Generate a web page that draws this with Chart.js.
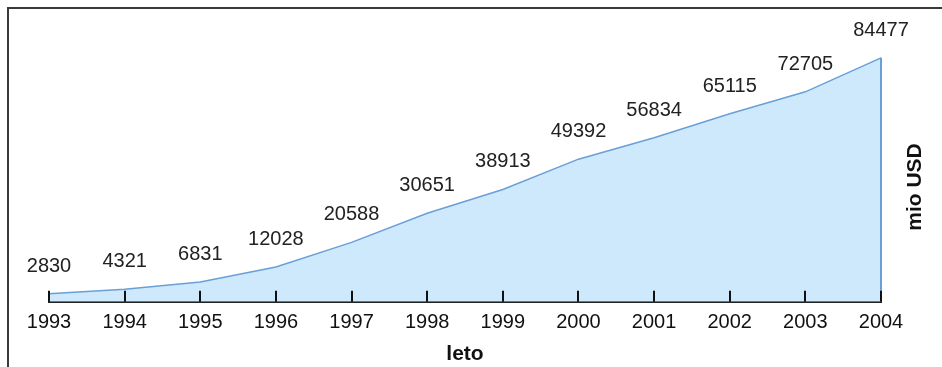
<!DOCTYPE html>
<html>
<head>
<meta charset="utf-8">
<script src="https://cdn.jsdelivr.net/npm/chart.js@4.4.1/dist/chart.umd.min.js"></script>
<style>
html,body{margin:0;padding:0;background:#fff;overflow:hidden;}
canvas{display:block;}
</style>
</head>
<body>
<canvas id="c" width="942" height="367"></canvas>
<script>
const years = ['1993','1994','1995','1996','1997','1998','1999','2000','2001','2002','2003','2004'];
const values = [2830, 4321, 6831, 12028, 20588, 30651, 38913, 49392, 56834, 65115, 72705, 84477];
const xTitle = 'leto';
const yTitle = 'mio USD';

const FONT = '"Liberation Sans", Arial, sans-serif';

const framePlugin = {
  id: 'frame',
  beforeDraw(chart) {
    const ctx = chart.ctx;
    ctx.save();
    ctx.fillStyle = '#fff';
    ctx.fillRect(0, 0, chart.width, chart.height);
    ctx.strokeStyle = '#3a3a3a';
    ctx.lineWidth = 2;
    ctx.beginPath();
    ctx.moveTo(8, chart.height + 2);
    ctx.lineTo(8, 8);
    ctx.lineTo(chart.width + 2, 8);
    ctx.stroke();
    ctx.restore();
  }
};

const decoPlugin = {
  id: 'deco',
  afterDatasetsDraw(chart) {
    const ctx = chart.ctx;
    const xs = chart.scales.x, ys = chart.scales.y;
    const bottom = chart.chartArea.bottom;
    ctx.save();
    // closing edge at last point
    const last = values.length - 1;
    ctx.strokeStyle = '#6a9fd8';
    ctx.lineWidth = 2;
    ctx.beginPath();
    ctx.moveTo(xs.getPixelForValue(last), ys.getPixelForValue(values[last]));
    ctx.lineTo(xs.getPixelForValue(last), bottom);
    ctx.stroke();
    // inward tick marks
    ctx.strokeStyle = '#111';
    ctx.lineWidth = 2;
    years.forEach((y, i) => {
      const px = Math.round(xs.getPixelForValue(i));
      ctx.beginPath();
      ctx.moveTo(px, bottom);
      ctx.lineTo(px, bottom - 11);
      ctx.stroke();
    });
    // value labels
    ctx.fillStyle = '#222';
    ctx.font = '20px ' + FONT;
    ctx.textAlign = 'center';
    ctx.textBaseline = 'alphabetic';
    values.forEach((v, i) => {
      ctx.fillText(String(v), xs.getPixelForValue(i), ys.getPixelForValue(v) - 22);
    });
    // right axis title
    ctx.font = 'bold 21px ' + FONT;
    ctx.fillStyle = '#111';
    ctx.translate(915, 187);
    ctx.rotate(-Math.PI / 2);
    ctx.textBaseline = 'middle';
    ctx.fillText(yTitle, 0, 0);
    ctx.restore();
  }
};

new Chart(document.getElementById('c'), {
  type: 'line',
  data: {
    labels: years,
    datasets: [{
      data: values,
      borderColor: '#6a9fd8',
      borderWidth: 1.5,
      backgroundColor: '#cde9fb',
      fill: 'origin',
      pointRadius: 0,
      tension: 0
    }]
  },
  options: {
    responsive: false,
    animation: false,
    devicePixelRatio: 1,
    layout: { padding: { left: 49, right: 61, top: 13, bottom: 0 } },
    plugins: { legend: { display: false }, tooltip: { enabled: false } },
    scales: {
      x: {
        offset: false,
        grid: { display: false, drawTicks: false },
        border: { display: true, color: '#222', width: 2 },
        ticks: { color: '#111', font: { family: FONT, size: 20 }, padding: 8.5, maxRotation: 0, autoSkip: false },
        title: { display: true, text: xTitle, color: '#111', font: { family: FONT, size: 21, weight: 'bold' }, padding: { top: -1, bottom: 0 } }
      },
      y: {
        display: false,
        min: 0,
        max: 100000
      }
    }
  },
  plugins: [framePlugin, decoPlugin]
});
</script>
</body>
</html>
